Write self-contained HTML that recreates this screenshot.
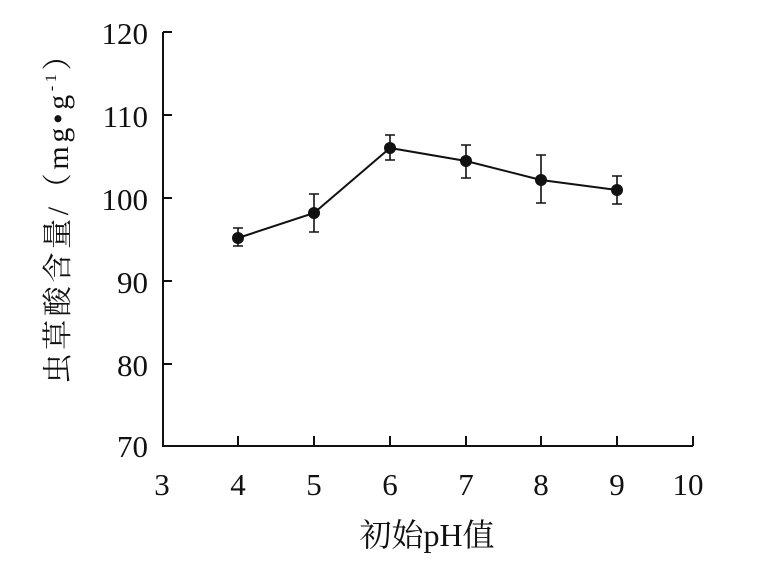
<!DOCTYPE html>
<html><head><meta charset="utf-8"><style>body{margin:0;background:#fff}</style></head><body>
<svg width="771" height="569" xmlns="http://www.w3.org/2000/svg" font-family="Liberation Serif, Noto Serif CJK SC, serif" fill="#111">
<g stroke="#111" stroke-width="2" fill="none">
<path d="M163,32 V446 H693"/>
<path d="M163,32h9M163,115h9M163,198h9M163,281h9M163,364h9"/>
<path d="M238,446v-10M314,446v-10M390,446v-10M466,446v-10M541,446v-10M617,446v-10M693,446v-10"/>
</g>
<g font-size="31" text-anchor="end">
<text x="148" y="44">120</text><text x="148" y="127">110</text><text x="148" y="210">100</text>
<text x="148" y="293">90</text><text x="148" y="376">80</text><text x="148" y="457">70</text>
</g>
<g font-size="31" text-anchor="middle">
<text x="162" y="495">3</text><text x="238" y="495">4</text><text x="314" y="495">5</text><text x="390" y="495">6</text>
<text x="466" y="495">7</text><text x="541" y="495">8</text><text x="617" y="495">9</text><text x="688" y="495">10</text>
</g>
<text x="427" y="546" font-size="32" text-anchor="middle">初始pH值</text>
<text transform="translate(68,212) rotate(-90)" font-size="30" text-anchor="middle" textLength="343">虫草酸含量/（mg•g<tspan font-size="16" dy="-12">-1</tspan><tspan dy="12">）</tspan></text>
<polyline points="238,238 314,213 390,148 466,161 541,180 617,190" fill="none" stroke="#111" stroke-width="2"/>
<g stroke="#111" stroke-width="1.6">
<path d="M238,228v18M233,228h10M233,246h10"/>
<path d="M314,194v38M309,194h10M309,232h10"/>
<path d="M390,135v25M385,135h10M385,160h10"/>
<path d="M466,145v33M461,145h10M461,178h10"/>
<path d="M541,155v48M536,155h10M536,203h10"/>
<path d="M617,176v28M612,176h10M612,204h10"/>
</g>
<g>
<circle cx="238" cy="238" r="6"/><circle cx="314" cy="213" r="6"/><circle cx="390" cy="148" r="6"/>
<circle cx="466" cy="161" r="6"/><circle cx="541" cy="180" r="6"/><circle cx="617" cy="190" r="6"/>
</g>
</svg>
</body></html>
